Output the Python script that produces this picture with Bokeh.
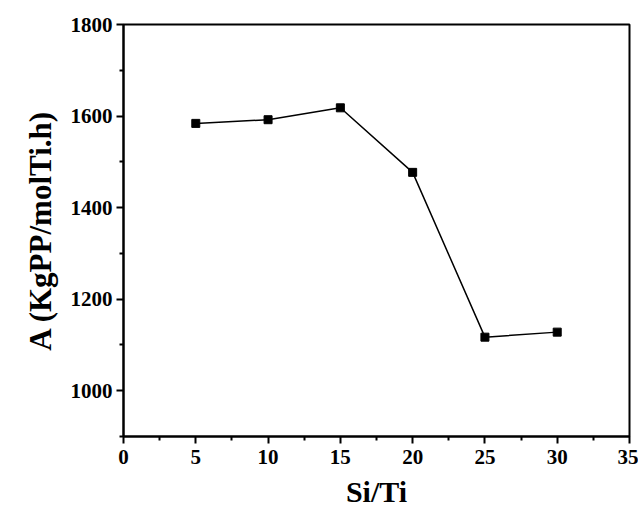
from bokeh.plotting import figure
from bokeh.models import Range1d, FixedTicker, Title
from bokeh.embed import file_html
from bokeh.resources import INLINE

si_ti = [5, 10, 15, 20, 25, 30]
activity = [1584, 1592, 1618, 1477, 1117, 1128]
x_ticks = [0, 5, 10, 15, 20, 25, 30, 35]
y_ticks = [1000, 1200, 1400, 1600, 1800]
x_title = "Si/Ti"
y_title = "A (KgPP/molTi.h)"

p = figure(width=638, height=517, output_backend="svg", toolbar_location=None,
           x_range=Range1d(0, 35), y_range=Range1d(900, 1800),
           min_border_left=123, min_border_right=9, min_border_top=24, min_border_bottom=81)
p.grid.visible = False
p.outline_line_color = "black"
p.outline_line_width = 2
p.background_fill_color = "white"
p.border_fill_color = "white"

p.line(si_ti, activity, line_color="black", line_width=1.5)
p.scatter(si_ti, activity, marker="square", size=8, fill_color="black", line_color="black")

font = "Liberation Serif"
for ax in (p.xaxis[0], p.yaxis[0]):
    ax.axis_line_width = 2
    ax.axis_line_color = "black"
    ax.major_tick_line_width = 2
    ax.minor_tick_line_width = 2
    ax.major_tick_out = 7
    ax.major_tick_in = 0
    ax.minor_tick_out = 4
    ax.minor_tick_in = 0
    ax.major_label_text_font = font
    ax.major_label_text_font_style = "bold"
    ax.major_label_text_font_size = "21px"
    ax.major_label_text_color = "black"

p.xaxis[0].ticker = FixedTicker(ticks=x_ticks, minor_ticks=[2.5 + 5 * i for i in range(7)])
p.yaxis[0].ticker = FixedTicker(ticks=y_ticks, minor_ticks=[900, 1100, 1300, 1500, 1700])
p.xaxis[0].major_label_standoff = 6
p.yaxis[0].major_label_standoff = 4

p.add_layout(Title(text=x_title, align="center", offset=-23, standoff=13,
                   text_font=font, text_font_style="bold", text_font_size="30px",
                   text_color="black"), "below")
p.add_layout(Title(text=y_title, align="center", offset=-7, standoff=20,
                   text_font=font, text_font_style="bold", text_font_size="31px",
                   text_color="black"), "left")

open("out.html", "w").write(file_html(p, INLINE))
